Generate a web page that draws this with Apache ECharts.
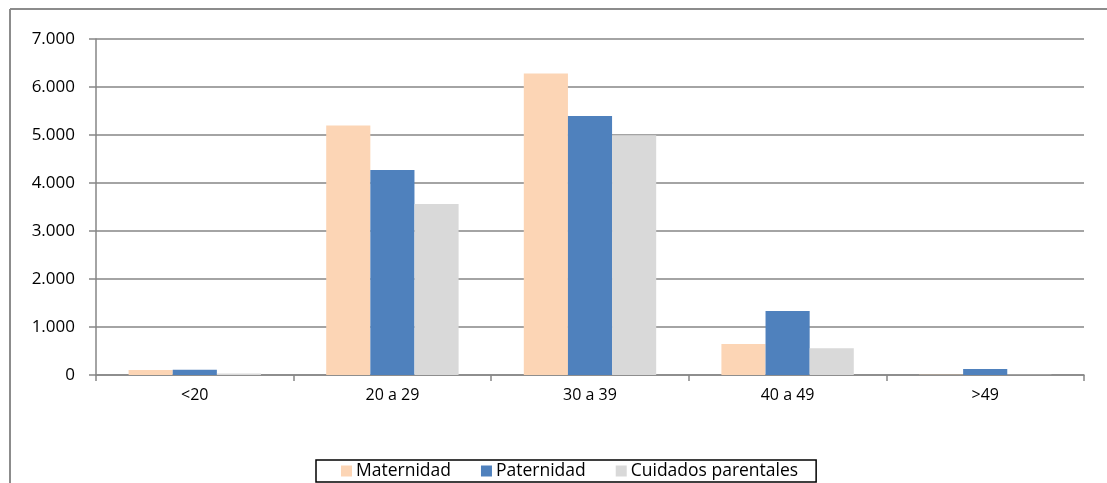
<!DOCTYPE html>
<html>
<head>
<meta charset="utf-8">
<script src="https://cdn.jsdelivr.net/npm/echarts@6/dist/echarts.min.js"></script>
<style>html,body{margin:0;padding:0;background:#fff}#c{width:1107px;height:483px}</style>
</head>
<body>
<div id="c"></div>
<script>
const categories = ['<20', '20 a 29', '30 a 39', '40 a 49', '>49'];
const maternidad = [105, 5200, 6280, 645, 5];
const paternidad = [110, 4270, 5395, 1333, 125];
const cuidados = [30, 3565, 4995, 555, 3];
const seriesNames = ['Maternidad', 'Paternidad', 'Cuidados parentales'];
const colors = ['#FCD5B5', '#4F81BD', '#D9D9D9'];

const chart = echarts.init(document.getElementById('c'), null, {renderer: 'canvas'});
const fontFam = 'Open Sans, Noto Sans, sans-serif';
chart.setOption({
  animation: false,
  graphic: [
    {type: 'line', shape: {x1: 10, y1: 9, x2: 1107, y2: 9}, style: {stroke: '#8c8c8c', lineWidth: 2}},
    {type: 'line', shape: {x1: 10, y1: 9, x2: 10, y2: 483}, style: {stroke: '#8c8c8c', lineWidth: 2}}
  ],
  grid: {left: 96, right: 23, top: 39, bottom: 108, containLabel: false},
  legend: {
    bottom: 1, left: 316,
    data: seriesNames,
    icon: 'rect', itemWidth: 11, itemHeight: 11, itemGap: 30,
    borderColor: '#000', borderWidth: 1.5, padding: [2, 18, 2, 25],
    textStyle: {fontFamily: fontFam, fontSize: 17.5, color: '#000', padding: [0, 0, 0, -1]}
  },
  xAxis: {
    type: 'category', data: categories,
    axisLine: {lineStyle: {color: '#868686', width: 1.5}},
    axisTick: {show: true, length: 6, lineStyle: {color: '#868686', width: 1.5}},
    axisLabel: {fontFamily: fontFam, fontSize: 16, color: '#000', margin: 12}
  },
  yAxis: {
    type: 'value', min: 0, max: 7000, interval: 1000,
    axisLine: {show: true, lineStyle: {color: '#868686', width: 1.5}},
    axisTick: {show: true, length: 7, lineStyle: {color: '#868686', width: 1.5}},
    splitLine: {lineStyle: {color: '#868686', width: 1.5}},
    axisLabel: {
      fontFamily: fontFam, fontSize: 17, color: '#000', margin: 21,
      formatter: v => v === 0 ? '0' : String(v).replace(/\B(?=(\d{3})+(?!\d))/g, '.')
    }
  },
  series: [
    {name: seriesNames[0], type: 'bar', data: maternidad, itemStyle: {color: colors[0]}, barGap: '0%', barCategoryGap: '33%'},
    {name: seriesNames[1], type: 'bar', data: paternidad, itemStyle: {color: colors[1]}, barGap: '0%', barCategoryGap: '33%'},
    {name: seriesNames[2], type: 'bar', data: cuidados, itemStyle: {color: colors[2]}, barGap: '0%', barCategoryGap: '33%'}
  ]
});
</script>
</body>
</html>
